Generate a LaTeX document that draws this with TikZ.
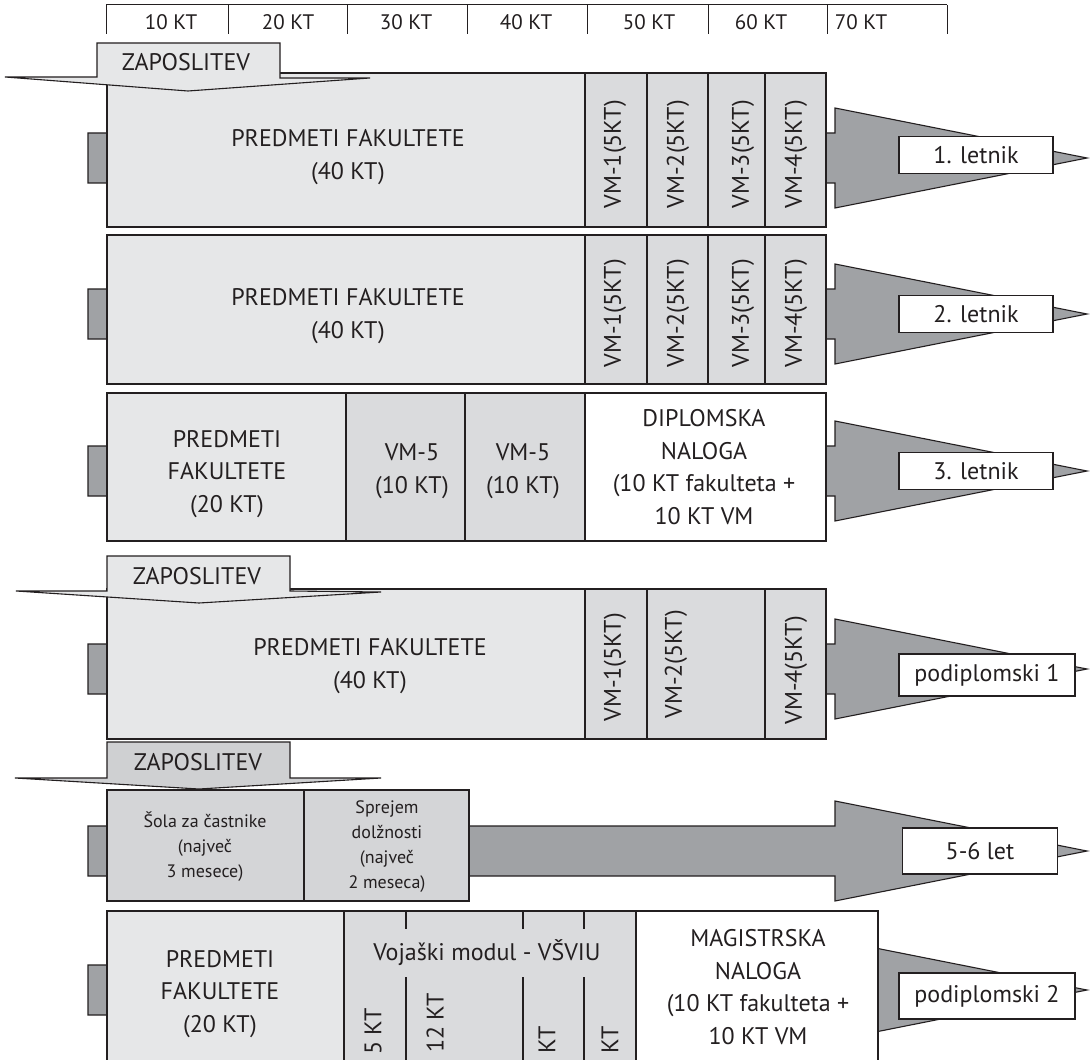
\documentclass[tikz,border=0pt]{standalone}
\usepackage{fontspec}
\setmainfont{PT Sans}
\definecolor{bord}{HTML}{231F20}
\definecolor{light}{HTML}{E6E7E8}
\definecolor{vmc}{HTML}{DADBDD}
\definecolor{midc}{HTML}{D4D5D7}
\definecolor{arrc}{HTML}{A0A2A5}
\definecolor{tabc}{HTML}{CFD0D2}
\newcommand{\mfont}{\fontsize{24}{32.5}\selectfont}
\newcommand{\sfont}{\fontsize{18}{25}\selectfont}
\newcommand{\bigarr}[1]{\draw[arr] (88,{#1-25}) -- (835,{#1-25}) -- (835,{#1-50}) -- (1087,#1) -- (835,{#1+50}) -- (835,{#1+25}) -- (88,{#1+25}) -- cycle;}
\newcommand{\bx}[6]{\node[bxs, fill=#6, minimum width={(#4-#2)*1pt}, minimum height={(#5-#3)*1pt}, anchor=north west] (#1) at (#2,#3) {};}
\begin{document}
\begin{tikzpicture}[x=1pt,y=-1pt,
  arr/.style={fill=arrc, draw=bord, line width=1.1pt, line join=miter},
  bxs/.style={draw=bord, line width=1.1pt, inner sep=0pt, outer sep=0pt},
  lbl/.style={draw=bord, fill=white, line width=1.1pt, inner sep=0pt, minimum height=37pt, font=\mfont, text=bord},
  txt/.style={align=center, font=\mfont, text=bord, inner sep=0pt},
  stxt/.style={align=center, font=\sfont, text=bord, inner sep=0pt},
  vtxt/.style={rotate=90, font=\mfont, text=bord, inner sep=0pt},
  tab/.style={draw=bord, line width=1.1pt, line join=miter},
  scl/.style={font=\fontsize{21}{24}\selectfont, text=bord, inner sep=0pt}]
\useasboundingbox (0,0) rectangle (1091,1059);
\clip (0,0) rectangle (1091,1059);
\fill[white] (0,0) rectangle (1091,1059);

% scale bar
\draw[bord, line width=1pt] (106,5) -- (947,5);
\foreach \xx in {106,228,347,467,587,708,827,947} \draw[bord, line width=1pt] (\xx,5) -- (\xx,34);
\node[scl] (s1) at (171,22) {10 KT};
\node[scl] (s2) at (288,22) {20 KT};
\node[scl] (s3) at (406,22) {30 KT};
\node[scl] (s4) at (526,22) {40 KT};
\node[scl] (s5) at (649,22) {50 KT};
\node[scl] (s6) at (761,22) {60 KT};
\node[scl] (s7) at (861,22) {70 KT};

% arrows behind the rows
\bigarr{158}
\bigarr{314}
\bigarr{471}
\bigarr{669}
\bigarr{851}
\bigarr{990}

% row 1
\bx{r1p}{107}{73}{585}{227}{light}
\bx{r1a}{585}{73}{647}{227}{vmc}
\bx{r1b}{647}{73}{708}{227}{vmc}
\bx{r1c}{708}{73}{765}{227}{vmc}
\bx{r1d}{765}{73}{826}{227}{vmc}
\node[txt] (t1) at (348,157) {PREDMETI FAKULTETE\\(40 KT)};
\node[vtxt] (v11) at (615,154) {VM-1(5KT)};
\node[vtxt] (v12) at (678,154) {VM-2(5KT)};
\node[vtxt] (v13) at (743,154) {VM-3(5KT)};
\node[vtxt] (v14) at (796,154) {VM-4(5KT)};
\draw[tab, fill=light] (97,43) -- (280,43) -- (280,78) -- (370,78) -- (188,91) -- (5,77) -- (97,77) -- cycle;
\node[txt] (z1) at (186,62) {ZAPOSLITEV};
\node[lbl, minimum width=154pt] (l1) at (976,155) {1. letnik};

% row 2
\bx{r2p}{107}{235}{585}{384}{light}
\bx{r2a}{585}{235}{647}{384}{vmc}
\bx{r2b}{647}{235}{708}{384}{vmc}
\bx{r2c}{708}{235}{765}{384}{vmc}
\bx{r2d}{765}{235}{826}{384}{vmc}
\node[txt] (t2) at (348,316) {PREDMETI FAKULTETE\\(40 KT)};
\node[vtxt] (v21) at (615,313) {VM-1(5KT)};
\node[vtxt] (v22) at (678,313) {VM-2(5KT)};
\node[vtxt] (v23) at (743,313) {VM-3(5KT)};
\node[vtxt] (v24) at (796,313) {VM-4(5KT)};
\node[lbl, minimum width=154pt] (l2) at (976,314) {2. letnik};

% row 3
\bx{r3p}{107}{393}{346}{541}{light}
\bx{r3a}{346}{393}{465}{541}{vmc}
\bx{r3b}{465}{393}{585}{541}{vmc}
\bx{r3c}{585}{393}{826}{541}{white}
\node[txt] (t3p) at (227,474) {PREDMETI\\FAKULTETE\\(20 KT)};
\node[txt] (t3a) at (412,471) {VM-5\\(10 KT)};
\node[txt] (t3b) at (523,471) {VM-5\\(10 KT)};
\node[txt] (t3c) at (704,467) {DIPLOMSKA\\NALOGA\\(10 KT fakulteta +\\10 KT VM};
\node[lbl, minimum width=154pt] (l3) at (976,471) {3. letnik};

% row 4
\bx{r4p}{107}{589}{585}{739}{light}
\bx{r4a}{585}{589}{647}{739}{vmc}
\bx{r4b}{647}{589}{765}{739}{vmc}
\bx{r4d}{765}{589}{826}{739}{vmc}
\node[txt] (t4) at (370,666) {PREDMETI FAKULTETE\\(40 KT)};
\node[vtxt] (v41) at (615,667) {VM-1(5KT)};
\node[vtxt] (v42) at (676,664) {VM-2(5KT)};
\node[vtxt] (v44) at (796,670) {VM-4(5KT)};
\draw[tab, fill=light] (107,556) -- (290,556) -- (290,591) -- (381,592) -- (199,603) -- (16,591) -- (107,591) -- cycle;
\node[txt] (z4) at (197,576) {ZAPOSLITEV};
\node[lbl, minimum width=176pt, minimum height=42pt] (l4) at (987,675) {podiplomski 1};

% row 5
\bx{r5a}{107}{790}{304}{901}{midc}
\bx{r5b}{304}{790}{469}{901}{midc}
\node[stxt] (t5a) at (205,847) {Šola za častnike\\(največ\\3 mesece)};
\node[stxt] (t5b) at (387,847) {Sprejem\\dolžnosti\\(največ\\2 meseca)};
\draw[tab, fill=tabc] (107,742) -- (290,742) -- (290,778) -- (381,778) -- (199,789) -- (15,778) -- (107,778) -- cycle;
\node[txt] (z5) at (198,762) {ZAPOSLITEV};
\node[lbl, minimum width=155pt, minimum height=46pt] (l5) at (980,851) {5-6 let};

% row 6
\bx{r6p}{107}{911}{344}{1075}{light}
\bx{r6v}{344}{911}{636}{1075}{vmc}
\bx{r6m}{636}{911}{878}{1075}{white}
\node[txt] (t6p) at (220,994) {PREDMETI\\FAKULTETE\\(20 KT)};
\node[txt] (t6m) at (758,987) {MAGISTRSKA\\NALOGA\\(10 KT fakulteta +\\10 KT VM};
\node[txt] (t6v) at (487,953) {Vojaški modul - VŠVIU};
\foreach \xx in {406,523,584} {
  \draw[bord, line width=1.1pt] (\xx,911) -- (\xx,929);
  \draw[bord, line width=1.1pt] (\xx,977) -- (\xx,1075);
}
\node[vtxt, anchor=west] (k1) at (373,1055) {5 KT};
\node[vtxt, anchor=west] (k2) at (435,1053) {12 KT};
\node[vtxt, anchor=west] (k3) at (547,1054) {KT};
\node[vtxt, anchor=west] (k4) at (610,1054) {KT};
\node[lbl, minimum width=176pt, minimum height=46pt] (l6) at (987,996) {podiplomski 2};
\end{tikzpicture}
\end{document}
